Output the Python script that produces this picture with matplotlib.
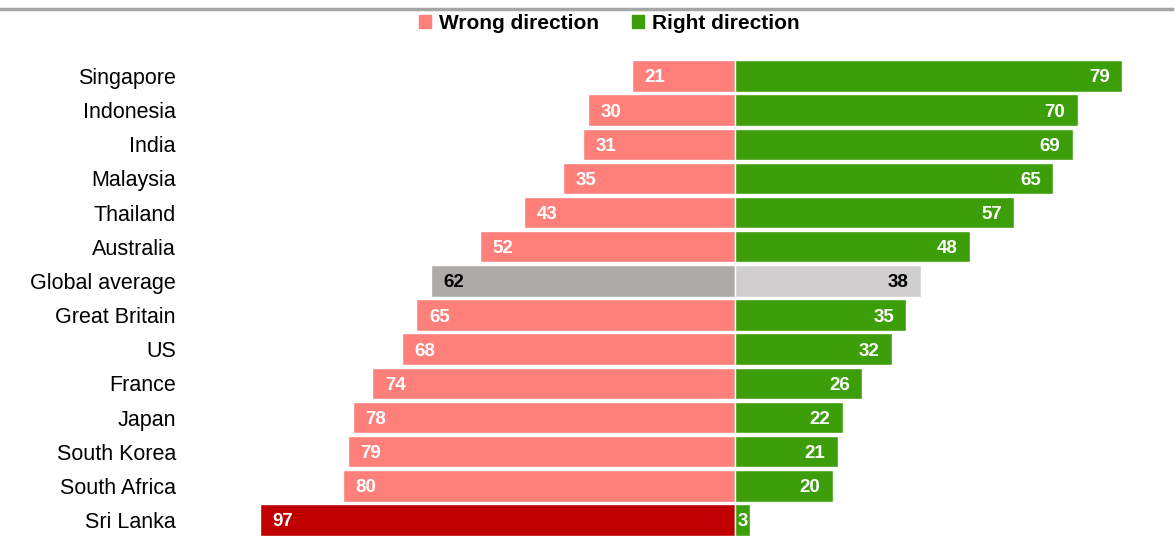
import matplotlib.pyplot as plt
from matplotlib.patches import Patch
from matplotlib.lines import Line2D

plt.rcParams['font.family'] = ['Liberation Sans', 'DejaVu Sans']

countries = ['Singapore', 'Indonesia', 'India', 'Malaysia', 'Thailand', 'Australia',
             'Global average', 'Great Britain', 'US', 'France', 'Japan',
             'South Korea', 'South Africa', 'Sri Lanka']
wrong = [21, 30, 31, 35, 43, 52, 62, 65, 68, 74, 78, 79, 80, 97]
right = [79, 70, 69, 65, 57, 48, 38, 35, 32, 26, 22, 21, 20, 3]

PINK = '#FF7F7B'
GREEN = '#3C9E08'
wrong_colors = []
right_colors = []
for c in countries:
    if c == 'Global average':
        wrong_colors.append('#AEAAA9')
        right_colors.append('#D0CECE')
    elif c == 'Sri Lanka':
        wrong_colors.append('#C00000')
        right_colors.append(GREEN)
    else:
        wrong_colors.append(PINK)
        right_colors.append(GREEN)

W, H = 1176, 536
fig = plt.figure(figsize=(W / 100, H / 100), dpi=100)

# axes placed in pixel terms: centre line at x=735, 4.9 px per point
ax_left, ax_right = 180, 1176
ax_bot, ax_top = 0, 42
ax = fig.add_axes([ax_left / W, ax_bot / H, (ax_right - ax_left) / W, (H - ax_top - ax_bot) / H])
ax.set_xlim(-(735 - ax_left) / 4.9, (ax_right - 735) / 4.9)
ax.set_ylim((536 - 76) / 34.15, (ax_top - 76) / 34.15)

y = list(range(len(countries)))
ax.barh(y, [-v for v in wrong], height=0.92, color=wrong_colors, edgecolor='white', linewidth=1)
ax.barh(y, right, height=0.92, color=right_colors, edgecolor='white', linewidth=1)

for i, c in enumerate(countries):
    tc = 'black' if c == 'Global average' else 'white'
    ax.annotate(str(wrong[i]), (-wrong[i], i), xytext=(9, 0), textcoords='offset points',
                ha='left', va='center_baseline', color=tc, fontsize=13.5, fontweight='bold')
    if right[i] < 5:
        ax.text(right[i] / 2, i, str(right[i]), ha='center', va='center_baseline',
                color=tc, fontsize=13.5, fontweight='bold')
    else:
        ax.annotate(str(right[i]), (right[i], i), xytext=(-9, 0), textcoords='offset points',
                    ha='right', va='center_baseline', color=tc, fontsize=13.5, fontweight='bold')

ax.set_yticks(y)
ax.set_yticklabels(countries, fontsize=15.5)
ax.tick_params(axis='y', length=0, pad=3)
ax.set_xticks([])
for s in ax.spines.values():
    s.set_visible(False)

# grey rule across the top
fig.add_artist(Line2D([0, 1172 / W], [1 - 8.5 / H, 1 - 8.5 / H], color='#A6A6A6', lw=2.5))

handles = [Patch(color=PINK, label='Wrong direction'), Patch(color=GREEN, label='Right direction')]
leg = fig.legend(handles=handles, loc='center', bbox_to_anchor=(609 / W, 1 - 23 / H), ncol=2,
                 frameon=False, handlelength=0.6, handleheight=0.6, handletextpad=0.35,
                 columnspacing=1.6, prop={'weight': 'bold', 'size': 15})

fig.savefig('out.png', dpi=100)
